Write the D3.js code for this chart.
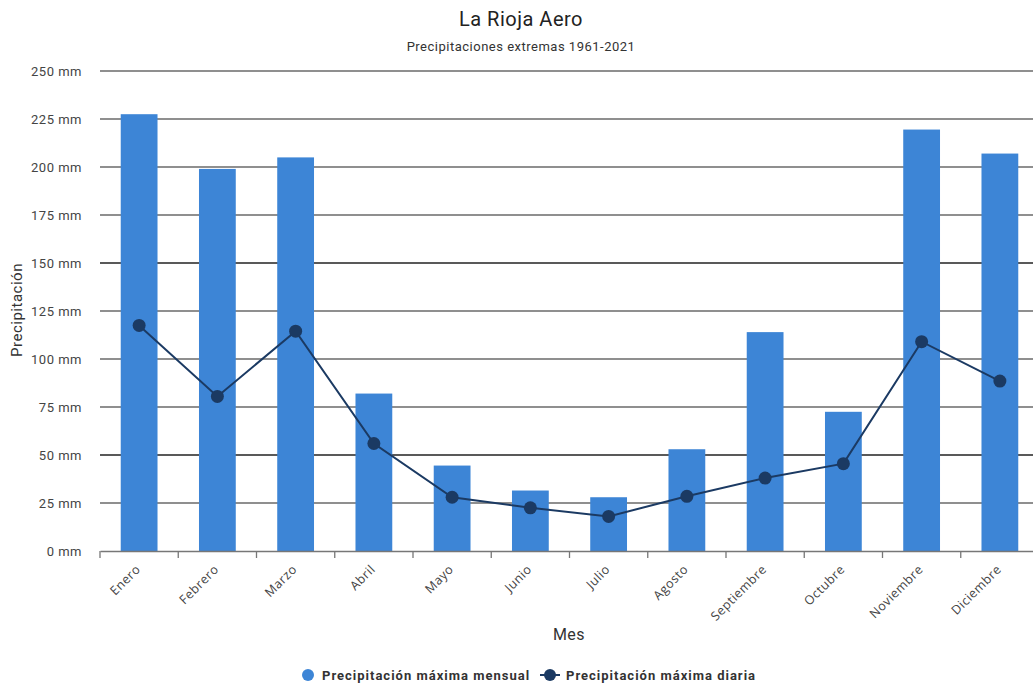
<!DOCTYPE html>
<html>
<head>
<meta charset="utf-8">
<script src="https://cdn.jsdelivr.net/npm/d3@7"></script>
<style>
  html, body { margin: 0; padding: 0; background: #fff; overflow: hidden; }
  svg { display: block; font-family: Roboto, "Noto Sans", sans-serif; }
</style>
</head>
<body>
<svg id="chart" width="1033" height="684"></svg>
<script>
// Meses del año
const months = ["Enero", "Febrero", "Marzo", "Abril", "Mayo", "Junio", "Julio",
  "Agosto", "Septiembre", "Octubre", "Noviembre", "Diciembre"];
// Precipitación máxima mensual (mm)
const maxMonthly = [227.5, 199, 205, 82, 44.5, 31.5, 28, 53, 114, 72.5, 219.5, 207];
// Precipitación máxima diaria (mm)
const maxDaily = [117.5, 80.5, 114.5, 56, 28, 22.5, 18, 28.5, 38, 45.5, 109, 88.5];
// Marcas del eje Y
const yTicks = [0, 25, 50, 75, 100, 125, 150, 175, 200, 225, 250];

const barColor = "#3d85d6";
const lineColor = "#1b3a63";

const svg = d3.select("#chart");
const plotLeft = 100, plotRight = 1039, plotTop = 71, plotBottom = 551;

const x = d3.scaleBand().domain(months).range([plotLeft, plotRight])
  .paddingInner(0.53).paddingOuter(0.265);
const y = d3.scaleLinear().domain([0, 250]).range([plotBottom, plotTop]);

// Título y subtítulo
svg.append("text").attr("x", 521).attr("y", 26).attr("text-anchor", "middle")
  .attr("font-size", 20).attr("letter-spacing", 0.5).attr("fill", "#222").text("La Rioja Aero");
svg.append("text").attr("x", 521).attr("y", 51).attr("text-anchor", "middle")
  .attr("font-size", 13).attr("letter-spacing", 0.5).attr("fill", "#333")
  .text("Precipitaciones extremas 1961-2021");

// Líneas de cuadrícula
svg.append("g").selectAll("line").data(yTicks.filter(d => d > 0)).join("line")
  .attr("x1", plotLeft).attr("x2", 1033)
  .attr("y1", d => y(d)).attr("y2", d => y(d))
  .attr("stroke", d => (d === 50 || d === 150) ? "#222" : "#6a6a6a")
  .attr("stroke-width", 1.3);

// Eje Y
const yAxis = svg.append("g").attr("transform", `translate(${plotLeft},0)`)
  .call(d3.axisLeft(y).tickValues(yTicks).tickFormat(d => d + " mm").tickSize(0).tickPadding(18));
yAxis.select(".domain").remove();
yAxis.selectAll("text").attr("font-size", 13).attr("letter-spacing", 0.5).attr("fill", "#444")
  .attr("font-family", "Roboto, sans-serif");

// Barras
svg.append("g").selectAll("rect").data(months).join("rect")
  .attr("x", d => x(d)).attr("width", x.bandwidth())
  .attr("y", (d, i) => y(maxMonthly[i]))
  .attr("height", (d, i) => y(0) - y(maxMonthly[i]))
  .attr("fill", barColor);

// Eje X
const xAxis = svg.append("g").attr("transform", `translate(0,${plotBottom})`)
  .call(d3.axisBottom(x).tickSize(0));
xAxis.select(".domain").attr("stroke", "#777").attr("stroke-width", 1.3);
xAxis.selectAll(".tick line").remove();
xAxis.selectAll(".tick text")
  .attr("font-size", 12.5).attr("letter-spacing", 0.5).attr("fill", "#444")
  .attr("font-family", "'Open Sans', sans-serif")
  .attr("text-anchor", "end").attr("dy", 0)
  .attr("transform", "translate(0,17) rotate(-45)");
// Separadores entre categorías
const sepPositions = months.map(m => x(m) - x.step() * x.paddingInner() / 2);
sepPositions[0] = plotLeft;
svg.append("g").selectAll("line").data(sepPositions).join("line")
  .attr("x1", d => d).attr("x2", d => d)
  .attr("y1", plotBottom).attr("y2", plotBottom + 7)
  .attr("stroke", "#777").attr("stroke-width", 1.3);

// Línea de precipitación diaria
const cx = m => x(m) + x.bandwidth() / 2;
const line = d3.line().x((d, i) => cx(months[i])).y(d => y(d));
svg.append("path").datum(maxDaily).attr("d", line)
  .attr("fill", "none").attr("stroke", lineColor).attr("stroke-width", 2);
svg.append("g").selectAll("circle").data(maxDaily).join("circle")
  .attr("cx", (d, i) => cx(months[i])).attr("cy", d => y(d)).attr("r", 6.5)
  .attr("fill", lineColor);

// Títulos de ejes
svg.append("text").attr("transform", "translate(22,310) rotate(-90)")
  .attr("text-anchor", "middle").attr("font-size", 15).attr("letter-spacing", 0.5)
  .attr("fill", "#333").text("Precipitación");
svg.append("text").attr("x", 569).attr("y", 640).attr("text-anchor", "middle")
  .attr("font-size", 16).attr("letter-spacing", 0.5).attr("fill", "#333").text("Mes");

// Leyenda
const legend = svg.append("g");
legend.append("circle").attr("cx", 308).attr("cy", 675).attr("r", 6).attr("fill", barColor);
legend.append("text").attr("x", 322).attr("y", 680).attr("font-size", 13).attr("letter-spacing", 1)
  .attr("font-weight", "bold").attr("fill", "#333").text("Precipitación máxima mensual");
legend.append("line").attr("x1", 540).attr("x2", 560).attr("y1", 675).attr("y2", 675)
  .attr("stroke", lineColor).attr("stroke-width", 2);
legend.append("circle").attr("cx", 550).attr("cy", 675).attr("r", 6).attr("fill", lineColor);
legend.append("text").attr("x", 566).attr("y", 680).attr("font-size", 13).attr("letter-spacing", 1)
  .attr("font-weight", "bold").attr("fill", "#333").text("Precipitación máxima diaria");
</script>
</body>
</html>
